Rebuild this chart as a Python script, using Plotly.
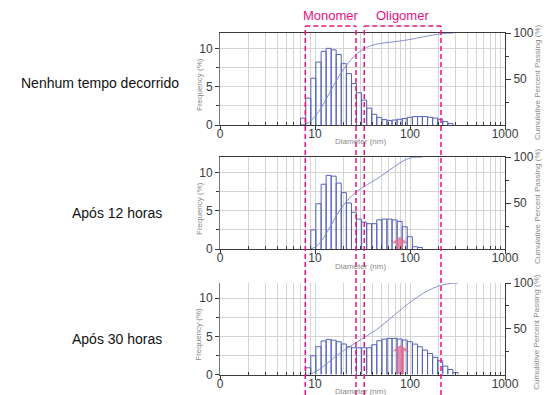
import math
import plotly.graph_objects as go

# ---------------- data ----------------
# lower/upper edges of the size channels (nm)
bin_edges_nm = [7.06, 7.99, 9.03, 10.2, 11.6, 13.1, 14.8, 16.7, 18.9, 21.4,
                24.2, 27.3, 30.9, 35.0, 39.5, 44.7, 50.6, 57.2, 64.7, 73.1,
                82.7, 93.5, 106, 120, 135, 153, 173, 196, 221, 250, 283, 320]

row_labels = ["Nenhum tempo decorrido", "Após 12 horas", "Após 30 horas"]

# frequency (%) per channel; first_bin = index of the first channel in bin_edges_nm
freq_0h = [0.9, 3.5, 6.1, 8.2, 9.6, 10.0, 9.8, 9.2, 8.0, 6.7,
           5.4, 4.2, 3.25, 2.2, 1.4, 1.0, 0.7, 0.6, 0.65, 0.75,
           0.85, 1.0, 1.1, 1.1, 1.1, 1.0, 0.9, 0.75, 0.45, 0.2]
first_bin_0h = 0

freq_12h = [2.5, 5.9, 8.45, 9.6, 9.5, 8.6, 7.35, 6.0, 4.8, 3.9,
            3.5, 3.3, 3.3, 3.8, 3.9, 3.9, 3.8, 3.6, 2.9, 1.6,
            0.3, 0.2]
first_bin_12h = 2

freq_30h = [0.88, 2.46, 3.64, 4.39, 4.6, 4.5, 4.3, 4.0, 3.64, 3.5,
            3.5, 3.5, 3.5, 3.9, 4.43, 4.65, 4.74, 4.74, 4.65, 4.52,
            4.3, 3.99, 3.64, 3.2, 2.76, 2.24, 1.8, 1.1, 0.66, 0.26]
first_bin_30h = 1

x_tick_vals = [1, 10, 100, 1000]
x_tick_text = ["0", "10", "100", "1000"]
x_minor_vals = [2, 3, 4, 5, 6, 7, 8, 9, 20, 30, 40, 50, 60, 70, 80, 90,
                200, 300, 400, 500, 600, 700, 800, 900]
freq_tick_vals = [0, 5, 10]
freq_minor_vals = [2.5, 7.5]
cum_tick_vals = [50, 100]
cum_minor_vals = [25, 75]

monomer_range_nm = [7.9, 27.0]
oligomer_range_nm = [33.0, 212.0]
arrow_nm = [None, 78.0, 80.0]          # pink arrows (panels 2 and 3)
arrow_top = [None, 1.6, 3.9]           # arrow tip height (freq %)

# ---------------- layout geometry ----------------
W, H = 546, 395
FONT = "Liberation Sans, Arial, sans-serif"
BLUE = "#5562b8"
CUM = "#7d89cc"
MAG = "#e6137f"
GRID = "#d4d4d4"
AX = "#3a3a3a"

def py(p):
    return 1 - p / H

x_dom = [220 / W, 505 / W]
panels_px = [(33, 125), (157, 249), (283, 374.5)]   # top, bottom in px
y_doms = [[py(b), py(t)] for t, b in panels_px]

datasets = [(freq_0h, first_bin_0h), (freq_12h, first_bin_12h), (freq_30h, first_bin_30h)]

fig = go.Figure()

for k, (freq, first) in enumerate(datasets):
    xa = "x" if k == 0 else f"x{k+1}"
    ya = "y" if k == 0 else f"y{k+1}"
    yc = f"y{k+4}"
    hx, hy = [], []
    for i, h in enumerate(freq):
        l = bin_edges_nm[first + i]
        r = bin_edges_nm[first + i + 1]
        hx += [l, l, r, r, None]
        hy += [0, h, h, 0, None]
    fig.add_trace(go.Scatter(x=hx, y=hy, mode="lines", xaxis=xa, yaxis=ya,
                             line=dict(color=BLUE, width=1), showlegend=False,
                             hoverinfo="skip"))
    # cumulative curve
    total = sum(freq)
    cx = [bin_edges_nm[first]]
    cy = [0.0]
    run = 0.0
    for i, h in enumerate(freq):
        run += h
        cx.append(bin_edges_nm[first + i + 1])
        cy.append(min(100.0, run / total * 100))
    fig.add_trace(go.Scatter(x=cx, y=cy, mode="lines", xaxis=xa, yaxis=yc,
                             line=dict(color=CUM, width=1, shape="spline", smoothing=0.6),
                             showlegend=False, hoverinfo="skip"))
    # pink arrow
    if arrow_nm[k] is not None:
        c = arrow_nm[k]
        head = 10 ** (8.3 / 95)
        shaft = 10 ** (3.4 / 95)
        tip = arrow_top[k]
        hb = tip - 0.85
        ax_ = [c / shaft, c / shaft, c / head, c, c * head, c * shaft, c * shaft, c / shaft]
        ay_ = [0, hb, hb, tip, hb, hb, 0, 0]
        fig.add_trace(go.Scatter(x=ax_, y=ay_, mode="lines", fill="toself",
                                 fillcolor="rgba(226,110,142,0.8)",
                                 line=dict(width=0, color="rgba(226,110,142,0.8)"),
                                 xaxis=xa, yaxis=ya, showlegend=False, hoverinfo="skip"))

tickfont = dict(family=FONT, size=12, color=AX)
layout = dict(template="none", width=W, height=H, margin=dict(l=0, r=0, t=0, b=0, pad=0),
              paper_bgcolor="white", plot_bgcolor="white", showlegend=False)

for k in range(3):
    xn = "xaxis" if k == 0 else f"xaxis{k+1}"
    yn = "yaxis" if k == 0 else f"yaxis{k+1}"
    ycn = f"yaxis{k+4}"
    ya = "y" if k == 0 else f"y{k+1}"
    xa = "x" if k == 0 else f"x{k+1}"
    layout[xn] = dict(type="log", range=[0, 3], domain=x_dom, anchor=ya,
                      automargin=False, ticklabelstandoff=-6,
                      tickvals=x_tick_vals, ticktext=x_tick_text,
                      ticks="outside", ticklen=4, tickcolor=AX, tickwidth=1,
                      showline=True, linecolor=AX, linewidth=1,
                      mirror=(k < 2),
                      showgrid=True, gridcolor=GRID, gridwidth=1,
                      zeroline=False, tickfont=tickfont,
                      minor=dict(tickvals=x_minor_vals, ticks="inside", ticklen=3,
                                 tickcolor=AX, showgrid=True, gridcolor=GRID))
    layout[yn] = dict(range=[0, 12], domain=y_doms[k], anchor=xa, automargin=False,
                      tickvals=freq_tick_vals, ticks="outside", ticklen=4,
                      tickcolor=AX, showline=True, linecolor="#777", linewidth=1,
                      showgrid=True, gridcolor=GRID, zeroline=False, tickfont=tickfont,
                      minor=dict(tickvals=freq_minor_vals, ticks="outside", ticklen=3,
                                 tickcolor=AX, showgrid=True, gridcolor=GRID))
    layout[ycn] = dict(range=[0, 100], overlaying=ya, side="right", anchor=xa,
                       automargin=False,
                       tickvals=cum_tick_vals, ticks="outside", ticklen=5,
                       tickcolor=AX, showline=True, linecolor=AX, linewidth=1,
                       showgrid=False, zeroline=False, tickfont=tickfont,
                       minor=dict(tickvals=cum_minor_vals, ticks="outside", ticklen=3,
                                  tickcolor=AX))

fig.update_layout(**layout)

ann = []
small = dict(family=FONT, size=8, color="#8a8a8a")
for k, (t, b) in enumerate(panels_px):
    mid = (t + b) / 2
    ann.append(dict(text=row_labels[k], x=(100 if k == 0 else 117) / W,
                    y=py([83, 213, 339][k]), xref="paper", yref="paper",
                    xanchor="center", yanchor="middle", showarrow=False,
                    font=dict(family=FONT, size=14, color="#111")))
    ann.append(dict(text="Frequency (%)", x=199 / W, y=py(mid + 6), xref="paper",
                    yref="paper", textangle=-90, showarrow=False,
                    xanchor="center", yanchor="middle", font=small))
    ann.append(dict(text="Cumulative Percent Passing (%)", x=537 / W, y=py(mid + 4),
                    xref="paper", yref="paper", textangle=-90, showarrow=False,
                    xanchor="center", yanchor="middle", font=small))
    ann.append(dict(text="Diameter (nm)", x=360 / W, y=py(b + 17), xref="paper",
                    yref="paper", showarrow=False, xanchor="center", yanchor="middle",
                    font=small))

# Monomer / Oligomer brackets (shape coords on a log axis are in data units)
shapes = []
bracket_y = py(26)
for name, (a, b2) in [("Monomer", monomer_range_nm), ("Oligomer", oligomer_range_nm)]:
    for v in (a, b2):
        shapes.append(dict(type="line", xref="x", yref="paper",
                           x0=v, x1=v, y0=0, y1=bracket_y,
                           line=dict(color=MAG, width=1.5, dash="5px,3px")))
    shapes.append(dict(type="line", xref="x", yref="paper",
                       x0=a, x1=b2, y0=bracket_y, y1=bracket_y,
                       line=dict(color=MAG, width=1.5, dash="5px,3px")))
    ann.append(dict(text=name, xref="x", yref="paper",
                    x=(math.log10(a) + math.log10(b2)) / 2, y=py(16),
                    showarrow=False, xanchor="center", yanchor="middle",
                    font=dict(family=FONT, size=13, color=MAG)))

fig.update_layout(annotations=ann, shapes=shapes)
fig.write_html("out.html", config={"displayModeBar": False},
               post_script="document.body.style.margin='0';document.body.style.overflow='hidden';")
